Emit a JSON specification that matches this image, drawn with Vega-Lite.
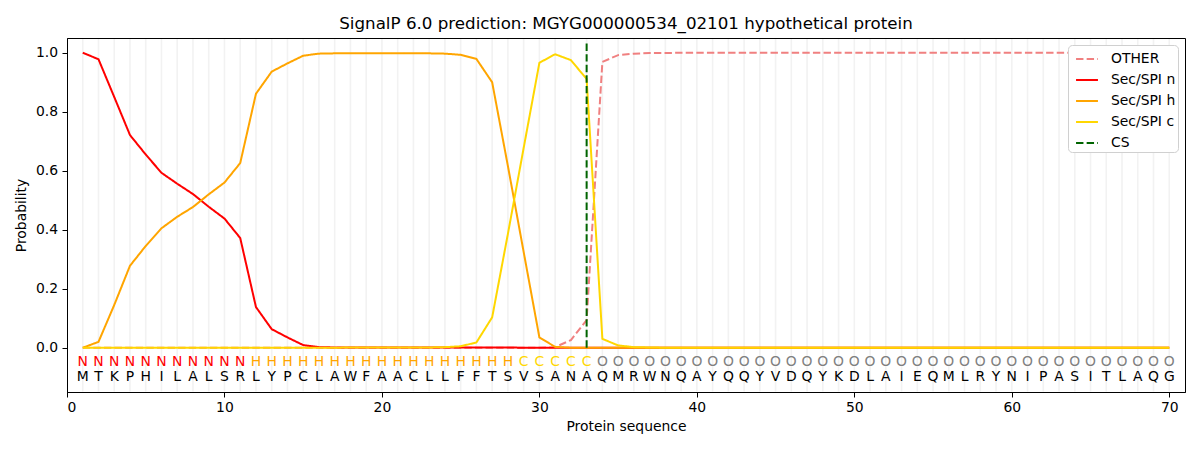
{
  "$schema": "https://vega.github.io/schema/vega-lite/v6.json",
  "width": 1118,
  "height": 354,
  "autosize": {"type": "none"},
  "padding": {"left": 67, "top": 38, "right": 15, "bottom": 58},
  "title": {
    "text": "SignalP 6.0 prediction: MGYG000000534_02101 hypothetical protein",
    "font": "DejaVu Sans",
    "fontSize": 16.7,
    "fontWeight": "normal",
    "color": "black",
    "anchor": "middle",
    "offset": 5
  },
  "config": {
    "font": "DejaVu Sans",
    "view": {"stroke": "black", "strokeWidth": 1},
    "axis": {
      "grid": false,
      "domainColor": "black",
      "tickColor": "black",
      "tickSize": 5,
      "labelFont": "DejaVu Sans",
      "labelFontSize": 13.9,
      "labelColor": "black",
      "titleFont": "DejaVu Sans",
      "titleFontSize": 13.9,
      "titleFontWeight": "normal",
      "titleColor": "black"
    },
    "legend": {
      "orient": "top-right",
      "offset": 7,
      "title": null,
      "symbolType": "stroke",
      "symbolStrokeWidth": 2,
      "symbolSize": 480,
      "symbolOffset": 5,
      "labelFont": "DejaVu Sans",
      "labelFontSize": 13.9,
      "labelColor": "black",
      "labelOffset": 12,
      "rowPadding": 2,
      "padding": 2,
      "strokeColor": "#d0d0d0",
      "cornerRadius": 4,
      "fillColor": "white"
    }
  },
  "datasets": {
    "residues": [
      {"pos": 1, "aa": "M", "lab": "N", "other": 0, "n": 1.0, "h": 0.0, "c": 0.0},
      {"pos": 2, "aa": "T", "lab": "N", "other": 0, "n": 0.978, "h": 0.02, "c": 0.0},
      {"pos": 3, "aa": "K", "lab": "N", "other": 0, "n": 0.85, "h": 0.145, "c": 0.0},
      {"pos": 4, "aa": "P", "lab": "N", "other": 0, "n": 0.721, "h": 0.278, "c": 0.0},
      {"pos": 5, "aa": "H", "lab": "N", "other": 0, "n": 0.655, "h": 0.345, "c": 0.0},
      {"pos": 6, "aa": "I", "lab": "N", "other": 0, "n": 0.593, "h": 0.405, "c": 0.0},
      {"pos": 7, "aa": "L", "lab": "N", "other": 0, "n": 0.556, "h": 0.444, "c": 0.0},
      {"pos": 8, "aa": "A", "lab": "N", "other": 0, "n": 0.521, "h": 0.477, "c": 0.0},
      {"pos": 9, "aa": "L", "lab": "N", "other": 0, "n": 0.478, "h": 0.52, "c": 0.0},
      {"pos": 10, "aa": "S", "lab": "N", "other": 0, "n": 0.438, "h": 0.56, "c": 0.0},
      {"pos": 11, "aa": "R", "lab": "N", "other": 0, "n": 0.372, "h": 0.626, "c": 0.0},
      {"pos": 12, "aa": "L", "lab": "H", "other": 0, "n": 0.138, "h": 0.861, "c": 0.0},
      {"pos": 13, "aa": "Y", "lab": "H", "other": 0, "n": 0.063, "h": 0.936, "c": 0.0},
      {"pos": 14, "aa": "P", "lab": "H", "other": 0, "n": 0.035, "h": 0.964, "c": 0.0},
      {"pos": 15, "aa": "C", "lab": "H", "other": 0, "n": 0.009, "h": 0.99, "c": 0.0},
      {"pos": 16, "aa": "L", "lab": "H", "other": 0, "n": 0.002, "h": 0.997, "c": 0.0},
      {"pos": 17, "aa": "A", "lab": "H", "other": 0, "n": 0.001, "h": 0.998, "c": 0.0},
      {"pos": 18, "aa": "W", "lab": "H", "other": 0, "n": 0.001, "h": 0.998, "c": 0.001},
      {"pos": 19, "aa": "F", "lab": "H", "other": 0, "n": 0.001, "h": 0.998, "c": 0.001},
      {"pos": 20, "aa": "A", "lab": "H", "other": 0, "n": 0.001, "h": 0.998, "c": 0.001},
      {"pos": 21, "aa": "A", "lab": "H", "other": 0, "n": 0.001, "h": 0.998, "c": 0.001},
      {"pos": 22, "aa": "C", "lab": "H", "other": 0, "n": 0.001, "h": 0.998, "c": 0.001},
      {"pos": 23, "aa": "L", "lab": "H", "other": 0, "n": 0.001, "h": 0.998, "c": 0.001},
      {"pos": 24, "aa": "L", "lab": "H", "other": 0, "n": 0.001, "h": 0.997, "c": 0.002},
      {"pos": 25, "aa": "F", "lab": "H", "other": 0, "n": 0.001, "h": 0.993, "c": 0.005},
      {"pos": 26, "aa": "F", "lab": "H", "other": 0, "n": 0.001, "h": 0.979, "c": 0.018},
      {"pos": 27, "aa": "T", "lab": "H", "other": 0, "n": 0.001, "h": 0.9, "c": 0.103},
      {"pos": 28, "aa": "S", "lab": "H", "other": 0, "n": 0.001, "h": 0.616, "c": 0.386},
      {"pos": 29, "aa": "V", "lab": "C", "other": 0, "n": 0.0, "h": 0.325, "c": 0.677},
      {"pos": 30, "aa": "S", "lab": "C", "other": 0.0, "n": 0.0, "h": 0.035, "c": 0.966},
      {"pos": 31, "aa": "A", "lab": "C", "other": 0.002, "n": 0.0, "h": 0.003, "c": 0.995},
      {"pos": 32, "aa": "N", "lab": "C", "other": 0.026, "n": 0.0, "h": 0.0, "c": 0.975},
      {"pos": 33, "aa": "A", "lab": "C", "other": 0.094, "n": 0.0, "h": 0.0, "c": 0.911},
      {"pos": 34, "aa": "Q", "lab": "O", "other": 0.969, "n": 0.0, "h": 0.0, "c": 0.03},
      {"pos": 35, "aa": "M", "lab": "O", "other": 0.992, "n": 0.0, "h": 0.0, "c": 0.008},
      {"pos": 36, "aa": "R", "lab": "O", "other": 0.997, "n": 0.0, "h": 0.0, "c": 0.002},
      {"pos": 37, "aa": "W", "lab": "O", "other": 0.999, "n": 0.0, "h": 0.0, "c": 0.001},
      {"pos": 38, "aa": "N", "lab": "O", "other": 0.999, "n": 0.0, "h": 0.0, "c": 0.0},
      {"pos": 39, "aa": "Q", "lab": "O", "other": 1.0, "n": 0.0, "h": 0.0, "c": 0.0},
      {"pos": 40, "aa": "A", "lab": "O", "other": 1.0, "n": 0.0, "h": 0.0, "c": 0.0},
      {"pos": 41, "aa": "Y", "lab": "O", "other": 1.0, "n": 0.0, "h": 0.0, "c": 0.0},
      {"pos": 42, "aa": "Q", "lab": "O", "other": 1.0, "n": 0.0, "h": 0.0, "c": 0.0},
      {"pos": 43, "aa": "Q", "lab": "O", "other": 1.0, "n": 0.0, "h": 0.0, "c": 0.0},
      {"pos": 44, "aa": "Y", "lab": "O", "other": 1.0, "n": 0.0, "h": 0.0, "c": 0.0},
      {"pos": 45, "aa": "V", "lab": "O", "other": 1.0, "n": 0.0, "h": 0.0, "c": 0.0},
      {"pos": 46, "aa": "D", "lab": "O", "other": 1.0, "n": 0.0, "h": 0.0, "c": 0.0},
      {"pos": 47, "aa": "Q", "lab": "O", "other": 1.0, "n": 0.0, "h": 0.0, "c": 0.0},
      {"pos": 48, "aa": "Y", "lab": "O", "other": 1.0, "n": 0.0, "h": 0.0, "c": 0.0},
      {"pos": 49, "aa": "K", "lab": "O", "other": 1.0, "n": 0.0, "h": 0.0, "c": 0.0},
      {"pos": 50, "aa": "D", "lab": "O", "other": 1.0, "n": 0.0, "h": 0.0, "c": 0.0},
      {"pos": 51, "aa": "L", "lab": "O", "other": 1.0, "n": 0.0, "h": 0.0, "c": 0.0},
      {"pos": 52, "aa": "A", "lab": "O", "other": 1.0, "n": 0.0, "h": 0.0, "c": 0.0},
      {"pos": 53, "aa": "I", "lab": "O", "other": 1.0, "n": 0.0, "h": 0.0, "c": 0.0},
      {"pos": 54, "aa": "E", "lab": "O", "other": 1.0, "n": 0.0, "h": 0.0, "c": 0.0},
      {"pos": 55, "aa": "Q", "lab": "O", "other": 1.0, "n": 0.0, "h": 0.0, "c": 0.0},
      {"pos": 56, "aa": "M", "lab": "O", "other": 1.0, "n": 0.0, "h": 0.0, "c": 0.0},
      {"pos": 57, "aa": "L", "lab": "O", "other": 1.0, "n": 0.0, "h": 0.0, "c": 0.0},
      {"pos": 58, "aa": "R", "lab": "O", "other": 1.0, "n": 0.0, "h": 0.0, "c": 0.0},
      {"pos": 59, "aa": "Y", "lab": "O", "other": 1.0, "n": 0.0, "h": 0.0, "c": 0.0},
      {"pos": 60, "aa": "N", "lab": "O", "other": 1.0, "n": 0.0, "h": 0.0, "c": 0.0},
      {"pos": 61, "aa": "I", "lab": "O", "other": 1.0, "n": 0.0, "h": 0.0, "c": 0.0},
      {"pos": 62, "aa": "P", "lab": "O", "other": 1.0, "n": 0.0, "h": 0.0, "c": 0.0},
      {"pos": 63, "aa": "A", "lab": "O", "other": 1.0, "n": 0.0, "h": 0.0, "c": 0.0},
      {"pos": 64, "aa": "S", "lab": "O", "other": 1.0, "n": 0.0, "h": 0.0, "c": 0.0},
      {"pos": 65, "aa": "I", "lab": "O", "other": 1.0, "n": 0.0, "h": 0.0, "c": 0.0},
      {"pos": 66, "aa": "T", "lab": "O", "other": 1.0, "n": 0.0, "h": 0.0, "c": 0.0},
      {"pos": 67, "aa": "L", "lab": "O", "other": 1.0, "n": 0.0, "h": 0.0, "c": 0.0},
      {"pos": 68, "aa": "A", "lab": "O", "other": 1.0, "n": 0.0, "h": 0.0, "c": 0.0},
      {"pos": 69, "aa": "Q", "lab": "O", "other": 1.0, "n": 0.0, "h": 0.0, "c": 0.0},
      {"pos": 70, "aa": "G", "lab": "O", "other": 1.0, "n": 0.0, "h": 0.0, "c": 0.0}
    ],
    "cleavage": [
      {"pos": 33, "from": 0, "to": 1.037, "series": "cs"}
    ]
  },
  "data": {"name": "residues"},
  "layer": [
    {
      "mark": {"type": "rule", "color": "#f2f2f2", "strokeWidth": 1.6},
      "encoding": {
        "x": {"field": "pos", "type": "quantitative"},
        "y": {"datum": -0.148},
        "y2": {"datum": 1.047}
      }
    },
    {
      "transform": [
        {"fold": ["other", "n", "h", "c"], "as": ["series", "prob"]}
      ],
      "mark": {"type": "line", "strokeWidth": 2},
      "encoding": {
        "x": {
          "field": "pos",
          "type": "quantitative",
          "title": "Protein sequence",
          "scale": {"domain": [0, 71], "nice": false, "zero": false},
          "axis": {"values": [0, 10, 20, 30, 40, 50, 60, 70], "labelPadding": 3.5, "titlePadding": 5}
        },
        "y": {
          "field": "prob",
          "type": "quantitative",
          "title": "Probability",
          "scale": {"domain": [-0.15, 1.05], "nice": false, "zero": false},
          "axis": {"values": [0, 0.2, 0.4, 0.6, 0.8, 1.0], "format": ".1f", "labelPadding": 4.5, "titlePadding": 7}
        },
        "color": {
          "field": "series",
          "type": "nominal",
          "scale": {
            "domain": ["other", "n", "h", "c", "cs"],
            "range": ["#f08080", "#ff0000", "#ffa500", "#ffd700", "#006400"]
          },
          "legend": {
            "labelExpr": "{'other': 'OTHER', 'n': 'Sec/SPI n', 'h': 'Sec/SPI h', 'c': 'Sec/SPI c', 'cs': 'CS'}[datum.value]"
          }
        },
        "strokeDash": {
          "field": "series",
          "type": "nominal",
          "scale": {
            "domain": ["other", "n", "h", "c", "cs"],
            "range": [[7.4, 3.2], [1, 0], [1, 0], [1, 0], [7.4, 3.2]]
          },
          "legend": {
            "labelExpr": "{'other': 'OTHER', 'n': 'Sec/SPI n', 'h': 'Sec/SPI h', 'c': 'Sec/SPI c', 'cs': 'CS'}[datum.value]"
          }
        }
      }
    },
    {
      "data": {"name": "cleavage"},
      "mark": {"type": "rule", "strokeWidth": 2},
      "encoding": {
        "x": {"field": "pos", "type": "quantitative"},
        "y": {"field": "from", "type": "quantitative"},
        "y2": {"field": "to"},
        "color": {"field": "series", "type": "nominal"},
        "strokeDash": {"field": "series", "type": "nominal"}
      }
    },
    {
      "mark": {"type": "text", "fontSize": 13.9, "font": "DejaVu Sans", "baseline": "middle", "align": "center"},
      "encoding": {
        "x": {"field": "pos", "type": "quantitative"},
        "y": {"datum": -0.047},
        "text": {"field": "lab"},
        "color": {
          "condition": [
            {"test": "datum.lab === 'N'", "value": "#ff0000"},
            {"test": "datum.lab === 'H'", "value": "#ffa500"},
            {"test": "datum.lab === 'C'", "value": "#ffd700"}
          ],
          "value": "#808080"
        }
      }
    },
    {
      "mark": {"type": "text", "fontSize": 13.9, "font": "DejaVu Sans", "baseline": "middle", "align": "center", "color": "black"},
      "encoding": {
        "x": {"field": "pos", "type": "quantitative"},
        "y": {"datum": -0.1},
        "text": {"field": "aa"}
      }
    }
  ]
}
